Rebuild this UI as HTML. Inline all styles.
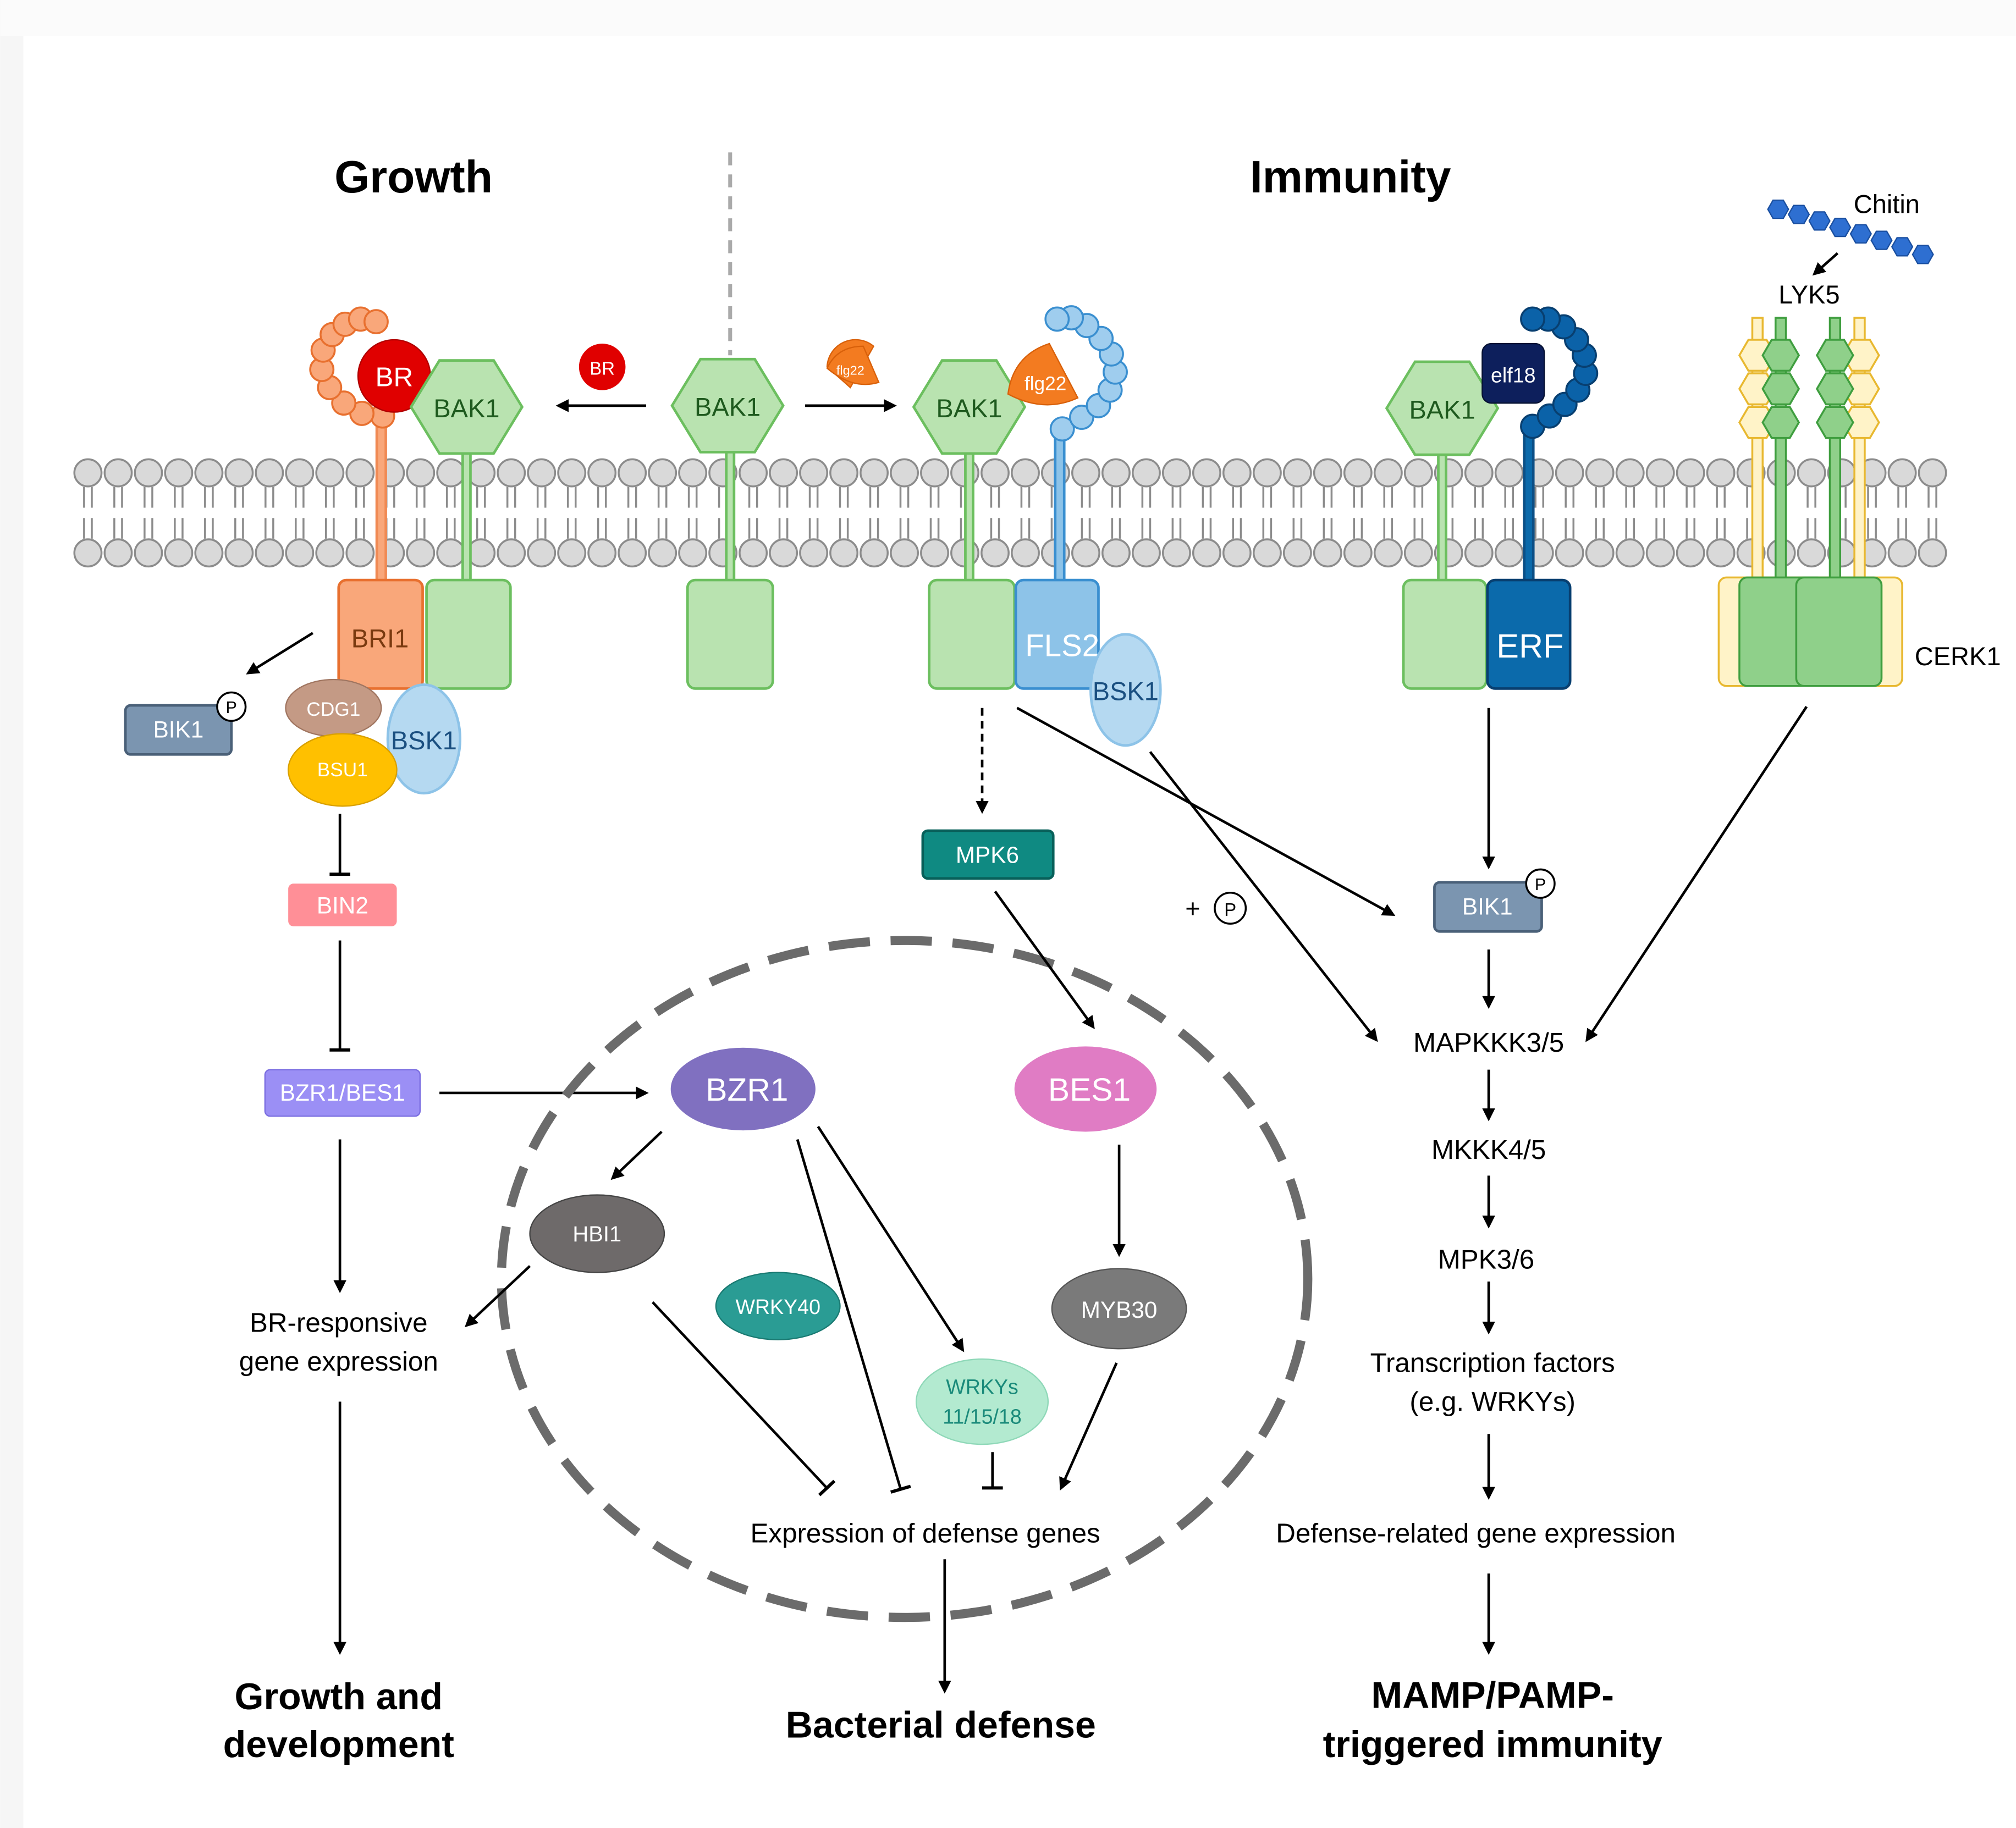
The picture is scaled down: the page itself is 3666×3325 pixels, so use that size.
<!DOCTYPE html>
<html><head><meta charset="utf-8"><style>
html,body{margin:0;padding:0;background:#fff}
svg{display:block}
text{font-family:"Liberation Sans",sans-serif}
</style></head><body>
<svg width="3666" height="3325" viewBox="0 0 1560 1415" xmlns="http://www.w3.org/2000/svg">
<defs>
<marker id="ar" markerWidth="10" markerHeight="10" refX="8" refY="5" orient="auto" markerUnits="userSpaceOnUse"><path d="M0,0 L10,5 L0,10 z" fill="#000"/></marker>
<marker id="tb" markerWidth="4" markerHeight="20" refX="2" refY="10" orient="auto" markerUnits="userSpaceOnUse"><rect x="0.5" y="2" width="2.5" height="16" fill="#000"/></marker>
<g id="hex"><polygon points="-43,0 -21,-36 21,-36 43,0 21,36 -21,36" fill="#b9e3b0" stroke="#6cbf5f" stroke-width="2"/></g>
</defs>
<rect width="1560" height="1415" fill="#fff"/>
<rect x="0" y="0" width="18" height="1415" fill="#f6f6f6"/>
<rect x="0" y="0" width="1560" height="28" fill="#fbfbfb"/>

<!-- titles -->
<text x="320" y="149" font-size="35" font-weight="bold" text-anchor="middle">Growth</text>
<text x="1045" y="149" font-size="35" font-weight="bold" text-anchor="middle">Immunity</text>
<line x1="565" y1="118" x2="565" y2="275" stroke="#aaa" stroke-width="3" stroke-dasharray="10,7"/>

<!-- membrane -->
<g id="mem">
<g stroke="#888" stroke-width="1.5">
<path id="tails" d=""/>
</g>
</g>
<script>
(function(){
var ns="http://www.w3.org/2000/svg",g=document.getElementById("mem");
for(var x=68;x<=1518;x+=23.4){
 [[366,1],[428,-1]].forEach(function(r){
  var c=document.createElementNS(ns,"circle");c.setAttribute("cx",x);c.setAttribute("cy",r[0]);c.setAttribute("r",10.5);
  c.setAttribute("fill","#d9d9d9");c.setAttribute("stroke","#8c8c8c");c.setAttribute("stroke-width","1.5");g.appendChild(c);
  [-3,3].forEach(function(d){var l=document.createElementNS(ns,"line");
   l.setAttribute("x1",x+d);l.setAttribute("x2",x+d);l.setAttribute("y1",r[0]+r[1]*11);l.setAttribute("y2",r[0]+r[1]*27);
   l.setAttribute("stroke","#8c8c8c");l.setAttribute("stroke-width","1.5");g.appendChild(l);});
 });
}
})();
</script>

<!-- Chitin -->
<g fill="#2e6fd1" stroke="#1a4fa0" stroke-width="1">
<polygon points="1368,162 1372,155 1380,155 1384,162 1380,169 1372,169"/>
<polygon points="1384,166 1388,159 1396,159 1400,166 1396,173 1388,173"/>
<polygon points="1400,171 1404,164 1412,164 1416,171 1412,178 1404,178"/>
<polygon points="1416,176 1420,169 1428,169 1432,176 1428,183 1420,183"/>
<polygon points="1432,181 1436,174 1444,174 1448,181 1444,188 1436,188"/>
<polygon points="1448,186 1452,179 1460,179 1464,186 1460,193 1452,193"/>
<polygon points="1464,191 1468,184 1476,184 1480,191 1476,198 1468,198"/>
<polygon points="1480,197 1484,190 1492,190 1496,197 1492,204 1484,204"/>
</g>
<text x="1460" y="165" font-size="20" text-anchor="middle">Chitin</text>
<line x1="1422" y1="196" x2="1404" y2="212" stroke="#000" stroke-width="2" marker-end="url(#ar)"/>
<text x="1400" y="235" font-size="20" text-anchor="middle">LYK5</text>

<!-- BRI1 complex -->
<line x1="295" y1="320" x2="295" y2="450" stroke="#f08a54" stroke-width="9"/>
<line x1="295" y1="320" x2="295" y2="450" stroke="#f9a77a" stroke-width="5"/>
<g fill="#f9a77a" stroke="#e8702f" stroke-width="1.5">
<circle cx="296" cy="322" r="9"/><circle cx="280" cy="320" r="9"/><circle cx="266" cy="312" r="9"/><circle cx="255" cy="300" r="9"/><circle cx="249" cy="286" r="9"/><circle cx="250" cy="271" r="9"/><circle cx="257" cy="259" r="9"/><circle cx="267" cy="251" r="9"/><circle cx="279" cy="247" r="9"/><circle cx="291" cy="249" r="9"/>
</g>
<circle cx="305" cy="291" r="28" fill="#e00000" stroke="#b00000"/>
<text x="305" y="299" font-size="21" fill="#fff" text-anchor="middle">BR</text>
<line x1="361" y1="340" x2="361" y2="450" stroke="#6cbf5f" stroke-width="8"/><line x1="361" y1="340" x2="361" y2="450" stroke="#b9e3b0" stroke-width="4"/>
<use href="#hex" x="361" y="315"/>
<text x="361" y="323" font-size="20" fill="#1e5a1e" text-anchor="middle">BAK1</text>
<rect x="262" y="449" width="65" height="84" rx="6" fill="#f9a77a" stroke="#e8702f" stroke-width="2"/>
<text x="294" y="501" font-size="20" fill="#7a3a10" text-anchor="middle">BRI1</text>
<rect x="330" y="449" width="65" height="84" rx="6" fill="#b9e3b0" stroke="#6cbf5f" stroke-width="2"/>

<!-- middle BAK1 -->
<circle cx="466" cy="284" r="18" fill="#e00000"/>
<text x="466" y="290" font-size="14" fill="#fff" text-anchor="middle">BR</text>
<line x1="500" y1="314" x2="432" y2="314" stroke="#000" stroke-width="2" marker-end="url(#ar)"/>
<line x1="565" y1="340" x2="565" y2="450" stroke="#6cbf5f" stroke-width="8"/><line x1="565" y1="340" x2="565" y2="450" stroke="#b9e3b0" stroke-width="4"/>
<use href="#hex" x="563" y="314"/>
<text x="563" y="322" font-size="20" fill="#1e5a1e" text-anchor="middle">BAK1</text>
<rect x="532" y="449" width="66" height="84" rx="6" fill="#b9e3b0" stroke="#6cbf5f" stroke-width="2"/>
<path d="M658,300 L640,284 A22,22 0 0 1 676,268 Z" fill="#f37b20" stroke="#d8600a"/>
<path d="M640,285 Q648,268 668,268 L680,296 Q660,302 640,285Z" fill="#f37b20" stroke="#d8600a"/>
<text x="658" y="290" font-size="10" fill="#fff" text-anchor="middle">flg22</text>
<line x1="623" y1="314" x2="692" y2="314" stroke="#000" stroke-width="2" marker-end="url(#ar)"/>

<!-- FLS2 complex -->
<line x1="820" y1="325" x2="820" y2="450" stroke="#3a8fd0" stroke-width="9"/><line x1="820" y1="325" x2="820" y2="450" stroke="#8dc3e8" stroke-width="5"/>
<g fill="#9fcdee" stroke="#3a8fd0" stroke-width="1.5">
<circle cx="822" cy="332" r="9"/><circle cx="837" cy="323" r="9"/><circle cx="850" cy="314" r="9"/><circle cx="859" cy="302" r="9"/><circle cx="863" cy="288" r="9"/><circle cx="860" cy="274" r="9"/><circle cx="852" cy="262" r="9"/><circle cx="841" cy="252" r="9"/><circle cx="829" cy="246" r="9"/><circle cx="818" cy="247" r="9"/>
</g>
<line x1="750" y1="340" x2="750" y2="450" stroke="#6cbf5f" stroke-width="8"/><line x1="750" y1="340" x2="750" y2="450" stroke="#b9e3b0" stroke-width="4"/>
<use href="#hex" x="750" y="315"/>
<text x="750" y="323" font-size="20" fill="#1e5a1e" text-anchor="middle">BAK1</text>
<path d="M780,305 Q784,275 812,266 L834,308 Q808,320 780,305Z" fill="#f37b20" stroke="#d8600a"/>
<text x="809" y="302" font-size="15" fill="#fff" text-anchor="middle">flg22</text>
<rect x="719" y="449" width="66" height="84" rx="6" fill="#b9e3b0" stroke="#6cbf5f" stroke-width="2"/>
<rect x="786" y="449" width="64" height="84" rx="6" fill="#8dc3e8" stroke="#3a8fd0" stroke-width="2"/>
<text x="822" y="508" font-size="24" fill="#fff" text-anchor="middle">FLS2</text>
<ellipse cx="871" cy="534" rx="27" ry="43" fill="#b5d9f1" stroke="#8dc3e8" stroke-width="2"/>
<text x="871" y="542" font-size="20" fill="#1a4f80" text-anchor="middle">BSK1</text>

<!-- EFR complex -->
<line x1="1183" y1="325" x2="1183" y2="450" stroke="#0b4f86" stroke-width="9"/><line x1="1183" y1="325" x2="1183" y2="450" stroke="#0b6aab" stroke-width="5"/>
<g fill="#0b62a8" stroke="#083f70" stroke-width="1.5">
<circle cx="1186" cy="330" r="9"/><circle cx="1199" cy="322" r="9"/><circle cx="1211" cy="313" r="9"/><circle cx="1221" cy="302" r="9"/><circle cx="1227" cy="289" r="9"/><circle cx="1226" cy="275" r="9"/><circle cx="1220" cy="263" r="9"/><circle cx="1210" cy="253" r="9"/><circle cx="1198" cy="247" r="9"/><circle cx="1186" cy="247" r="9"/>
</g>
<line x1="1116" y1="340" x2="1116" y2="450" stroke="#6cbf5f" stroke-width="8"/><line x1="1116" y1="340" x2="1116" y2="450" stroke="#b9e3b0" stroke-width="4"/>
<use href="#hex" x="1116" y="316"/>
<text x="1116" y="324" font-size="20" fill="#1e5a1e" text-anchor="middle">BAK1</text>
<rect x="1147" y="266" width="48" height="46" rx="7" fill="#0d1f5c" stroke="#071233"/>
<text x="1171" y="296" font-size="16" fill="#fff" text-anchor="middle">elf18</text>
<rect x="1086" y="449" width="64" height="84" rx="6" fill="#b9e3b0" stroke="#6cbf5f" stroke-width="2"/>
<rect x="1151" y="449" width="64" height="84" rx="6" fill="#0b6aab" stroke="#083f70" stroke-width="2"/>
<text x="1184" y="509" font-size="26" fill="#fff" text-anchor="middle">ERF</text>

<!-- CERK1 -->
<g stroke="#e8b830" stroke-width="1.5" fill="#fff3c8">
<rect x="1356" y="246" width="8" height="205"/><rect x="1435" y="246" width="8" height="205"/>
<polygon points="1346,275 1353,263 1367,263 1374,275 1367,287 1353,287"/>
<polygon points="1346,301 1353,289 1367,289 1374,301 1367,313 1353,313"/>
<polygon points="1346,327 1353,315 1367,315 1374,327 1367,339 1353,339"/>
<polygon points="1426,275 1433,263 1447,263 1454,275 1447,287 1433,287"/>
<polygon points="1426,301 1433,289 1447,289 1454,301 1447,313 1433,313"/>
<polygon points="1426,327 1433,315 1447,315 1454,327 1447,339 1433,339"/>
<rect x="1330" y="447" width="142" height="84" rx="6"/>
</g>
<g stroke="#3f9e3f" stroke-width="1.5" fill="#8fd08a">
<rect x="1374" y="246" width="8" height="205"/><rect x="1416" y="246" width="8" height="205"/>
<polygon points="1364,275 1371,263 1385,263 1392,275 1385,287 1371,287"/>
<polygon points="1364,301 1371,289 1385,289 1392,301 1385,313 1371,313"/>
<polygon points="1364,327 1371,315 1385,315 1392,327 1385,339 1371,339"/>
<polygon points="1406,275 1413,263 1427,263 1434,275 1427,287 1413,287"/>
<polygon points="1406,301 1413,289 1427,289 1434,301 1427,313 1413,313"/>
<polygon points="1406,327 1413,315 1427,315 1434,327 1427,339 1413,339"/>
<rect x="1346" y="447" width="66" height="84" rx="6"/><rect x="1390" y="447" width="66" height="84" rx="6"/>
</g>
<text x="1515" y="515" font-size="20" text-anchor="middle">CERK1</text>

<!-- left growth pathway -->
<line x1="242" y1="490" x2="192" y2="521" stroke="#000" stroke-width="2" marker-end="url(#ar)"/>
<rect x="97" y="546" width="82" height="38" rx="4" fill="#7b95b0" stroke="#4a6078" stroke-width="2"/>
<text x="138" y="571" font-size="18" fill="#fff" text-anchor="middle">BIK1</text>
<circle cx="179" cy="547" r="11" fill="#fff" stroke="#000" stroke-width="1.5"/><text x="179" y="552" font-size="13" text-anchor="middle">P</text>
<ellipse cx="328" cy="572" rx="28" ry="42" fill="#b5d9f1" stroke="#8dc3e8" stroke-width="2"/>
<text x="328" y="580" font-size="20" fill="#1a4f80" text-anchor="middle">BSK1</text>
<ellipse cx="258" cy="548" rx="37" ry="22" fill="#c49a85" stroke="#a07560"/>
<text x="258" y="554" font-size="15" fill="#fff" text-anchor="middle">CDG1</text>
<ellipse cx="265" cy="596" rx="42" ry="28" fill="#ffc000" stroke="#d9a000"/>
<text x="265" y="601" font-size="15" fill="#fff" text-anchor="middle">BSU1</text>
<line x1="263" y1="630" x2="263" y2="677" stroke="#000" stroke-width="2" marker-end="url(#tb)"/>
<rect x="223" y="684" width="84" height="33" rx="4" fill="#ff8f97"/>
<text x="265" y="707" font-size="18" fill="#fff" text-anchor="middle">BIN2</text>
<line x1="263" y1="728" x2="263" y2="813" stroke="#000" stroke-width="2" marker-end="url(#tb)"/>
<rect x="205" y="828" width="120" height="36" rx="4" fill="#9b8ff5" stroke="#7a6de0"/>
<text x="265" y="852" font-size="18" fill="#fff" text-anchor="middle">BZR1/BES1</text>
<line x1="340" y1="846" x2="500" y2="846" stroke="#000" stroke-width="2" marker-end="url(#ar)"/>
<line x1="263" y1="882" x2="263" y2="999" stroke="#000" stroke-width="2" marker-end="url(#ar)"/>
<text x="262" y="1031" font-size="21" text-anchor="middle">BR-responsive</text>
<text x="262" y="1061" font-size="21" text-anchor="middle">gene expression</text>
<line x1="263" y1="1085" x2="263" y2="1279" stroke="#000" stroke-width="2" marker-end="url(#ar)"/>
<text x="262" y="1323" font-size="29" font-weight="bold" text-anchor="middle">Growth and</text>
<text x="262" y="1360" font-size="29" font-weight="bold" text-anchor="middle">development</text>

<!-- nucleus -->
<ellipse cx="700" cy="990" rx="312" ry="262" fill="none" stroke="#6b6b6b" stroke-width="7" stroke-dasharray="32,16"/>
<line x1="760" y1="548" x2="760" y2="628" stroke="#000" stroke-width="2" stroke-dasharray="6,4" marker-end="url(#ar)"/>
<rect x="714" y="643" width="101" height="37" rx="4" fill="#0f8a82" stroke="#08605a" stroke-width="2"/>
<text x="764" y="668" font-size="18" fill="#fff" text-anchor="middle">MPK6</text>
<line x1="770" y1="690" x2="846" y2="795" stroke="#000" stroke-width="2" marker-end="url(#ar)"/>
<ellipse cx="575" cy="843" rx="56" ry="32" fill="#8070c0"/>
<text x="578" y="852" font-size="25" fill="#fff" text-anchor="middle">BZR1</text>
<ellipse cx="840" cy="843" rx="55" ry="33" fill="#e07cc4"/>
<text x="843" y="852" font-size="25" fill="#fff" text-anchor="middle">BES1</text>
<line x1="512" y1="876" x2="474" y2="912" stroke="#000" stroke-width="2" marker-end="url(#ar)"/>
<ellipse cx="462" cy="955" rx="52" ry="30" fill="#6e6a6a" stroke="#444"/>
<text x="462" y="961" font-size="17" fill="#fff" text-anchor="middle">HBI1</text>
<line x1="410" y1="980" x2="361" y2="1026" stroke="#000" stroke-width="2" marker-end="url(#ar)"/>
<line x1="505" y1="1008" x2="640" y2="1152" stroke="#000" stroke-width="2" marker-end="url(#tb)"/>
<line x1="617" y1="882" x2="697" y2="1153" stroke="#000" stroke-width="2" marker-end="url(#tb)"/>
<line x1="633" y1="872" x2="745" y2="1045" stroke="#000" stroke-width="2" marker-end="url(#ar)"/>
<ellipse cx="602" cy="1011" rx="48" ry="26" fill="#2a9c94" stroke="#1a7a72"/>
<text x="602" y="1017" font-size="16" fill="#fff" text-anchor="middle">WRKY40</text>
<ellipse cx="760" cy="1085" rx="51" ry="33" fill="#b3ead0" stroke="#8fd8b8"/>
<text x="760" y="1079" font-size="16" fill="#1a8a7a" text-anchor="middle">WRKYs</text>
<text x="760" y="1102" font-size="16" fill="#1a8a7a" text-anchor="middle">11/15/18</text>
<line x1="768" y1="1124" x2="768" y2="1152" stroke="#000" stroke-width="2" marker-end="url(#tb)"/>
<line x1="866" y1="886" x2="866" y2="971" stroke="#000" stroke-width="2" marker-end="url(#ar)"/>
<ellipse cx="866" cy="1013" rx="52" ry="31" fill="#7a7a7a" stroke="#555"/>
<text x="866" y="1020" font-size="18" fill="#fff" text-anchor="middle">MYB30</text>
<line x1="864" y1="1055" x2="821" y2="1152" stroke="#000" stroke-width="2" marker-end="url(#ar)"/>
<text x="716" y="1194" font-size="21" text-anchor="middle">Expression of defense genes</text>
<line x1="731" y1="1207" x2="731" y2="1309" stroke="#000" stroke-width="2" marker-end="url(#ar)"/>
<text x="728" y="1345" font-size="29" font-weight="bold" text-anchor="middle">Bacterial defense</text>

<!-- immunity pathway -->
<line x1="787" y1="548" x2="1078" y2="708" stroke="#000" stroke-width="2" marker-end="url(#ar)"/>
<line x1="890" y1="582" x2="1065" y2="805" stroke="#000" stroke-width="2" marker-end="url(#ar)"/>
<text x="923" y="710" font-size="20" text-anchor="middle">+</text>
<circle cx="952" cy="703" r="12" fill="#fff" stroke="#000" stroke-width="1.5"/><text x="952" y="709" font-size="14" text-anchor="middle">P</text>
<line x1="1152" y1="548" x2="1152" y2="671" stroke="#000" stroke-width="2" marker-end="url(#ar)"/>
<rect x="1110" y="683" width="83" height="38" rx="4" fill="#7b95b0" stroke="#4a6078" stroke-width="2"/>
<text x="1151" y="708" font-size="18" fill="#fff" text-anchor="middle">BIK1</text>
<circle cx="1192" cy="684" r="11" fill="#fff" stroke="#000" stroke-width="1.5"/><text x="1192" y="689" font-size="13" text-anchor="middle">P</text>
<line x1="1152" y1="735" x2="1152" y2="779" stroke="#000" stroke-width="2" marker-end="url(#ar)"/>
<line x1="1398" y1="547" x2="1228" y2="805" stroke="#000" stroke-width="2" marker-end="url(#ar)"/>
<text x="1152" y="814" font-size="21" text-anchor="middle">MAPKKK3/5</text>
<line x1="1152" y1="828" x2="1152" y2="866" stroke="#000" stroke-width="2" marker-end="url(#ar)"/>
<text x="1152" y="897" font-size="21" text-anchor="middle">MKKK4/5</text>
<line x1="1152" y1="910" x2="1152" y2="949" stroke="#000" stroke-width="2" marker-end="url(#ar)"/>
<text x="1150" y="982" font-size="21" text-anchor="middle">MPK3/6</text>
<line x1="1152" y1="992" x2="1152" y2="1031" stroke="#000" stroke-width="2" marker-end="url(#ar)"/>
<text x="1155" y="1062" font-size="21" text-anchor="middle">Transcription factors</text>
<text x="1155" y="1092" font-size="21" text-anchor="middle">(e.g. WRKYs)</text>
<line x1="1152" y1="1110" x2="1152" y2="1159" stroke="#000" stroke-width="2" marker-end="url(#ar)"/>
<text x="1142" y="1194" font-size="21" text-anchor="middle">Defense-related gene expression</text>
<line x1="1152" y1="1218" x2="1152" y2="1279" stroke="#000" stroke-width="2" marker-end="url(#ar)"/>
<text x="1155" y="1322" font-size="29" font-weight="bold" text-anchor="middle">MAMP/PAMP-</text>
<text x="1155" y="1360" font-size="29" font-weight="bold" text-anchor="middle">triggered immunity</text>
</svg>
</body></html>
